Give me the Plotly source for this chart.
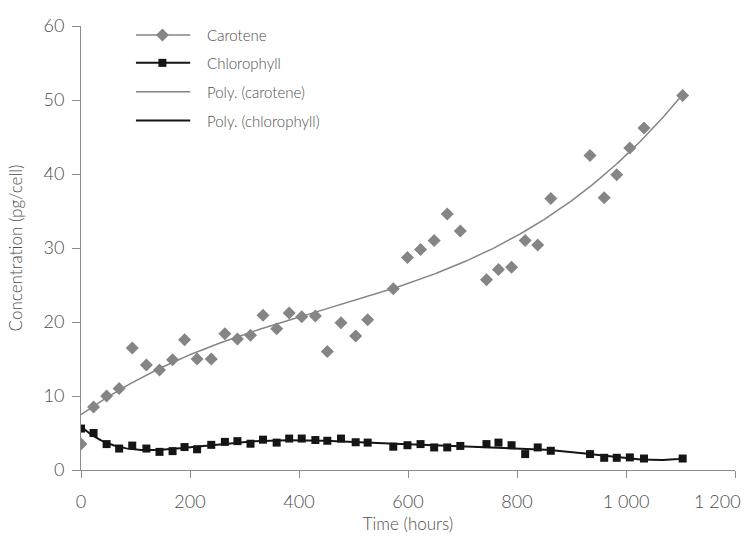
import numpy as np
import plotly.graph_objects as go

# Sampling times (hours)
time_h = [0, 23, 47, 70, 94, 120, 144, 168, 190, 213, 239, 264, 287, 311, 334,
          359, 382, 405, 430, 452, 477, 504, 526, 573, 599, 623, 648, 672, 696,
          744, 766, 790, 815, 838, 862, 934, 960, 983, 1007, 1033, 1104]

# Pigment concentrations (pg/cell)
carotene = [3.5, 8.5, 10.0, 11.0, 16.5, 14.2, 13.5, 14.9, 17.6, 15.0, 15.0, 18.4,
            17.7, 18.2, 20.9, 19.1, 21.2, 20.7, 20.8, 16.0, 19.9, 18.1, 20.3,
            24.5, 28.7, 29.8, 31.0, 34.6, 32.3, 25.7, 27.1, 27.4, 31.0, 30.4,
            36.7, 42.5, 36.8, 39.9, 43.5, 46.2, 50.6]
chlorophyll = [5.6, 5.0, 3.5, 2.9, 3.3, 2.9, 2.45, 2.55, 3.1, 2.8, 3.4, 3.8, 3.9,
               3.55, 4.1, 3.7, 4.25, 4.25, 4.05, 3.95, 4.25, 3.75, 3.7, 3.15,
               3.35, 3.5, 3.05, 3.05, 3.25, 3.5, 3.7, 3.35, 2.15, 3.05, 2.6,
               2.15, 1.65, 1.65, 1.7, 1.55, 1.55]

x_ticks = [0, 200, 400, 600, 800, 1000, 1200]
x_tick_text = ["0", "200", "400", "600", "800", "1 000", "1 200"]
y_ticks = [0, 10, 20, 30, 40, 50, 60]

legend_names = ["Carotene", "Chlorophyll", "Poly. (carotene)", "Poly. (chlorophyll)"]

GREY = "#858585"
BLACK = "#151515"
AXIS = "#8c8c8c"
TEXT = "#4d4d4d"
FONT = "Lato"
WEIGHT = 300
TICK_SIZE = 18

# Polynomial trend lines (order 3 for carotene, order 6 for chlorophyll)
t = np.array(time_h, dtype=float)
t_fine = np.linspace(t.min(), t.max(), 400)
car_fit = np.polyval(np.polyfit(t, carotene, 3), t_fine)
chl_fit = np.polyval(np.polyfit(t, chlorophyll, 6), t_fine)

fig = go.Figure()

fig.add_trace(go.Scatter(x=t_fine, y=car_fit, mode="lines",
                         line=dict(color=GREY, width=1.5), showlegend=False))
fig.add_trace(go.Scatter(x=time_h, y=carotene, mode="markers",
                         marker=dict(symbol="diamond", size=10, color=GREY),
                         showlegend=False))
fig.add_trace(go.Scatter(x=time_h, y=chlorophyll, mode="markers",
                         marker=dict(symbol="square", size=8, color=BLACK),
                         showlegend=False))
fig.add_trace(go.Scatter(x=t_fine, y=chl_fit, mode="lines",
                         line=dict(color=BLACK, width=2), showlegend=False))

# Hand-placed legend on an overlay axis spanning the plot area
leg_rows = [0.980, 0.917, 0.852, 0.787]
leg_styles = [
    dict(line=dict(color=GREY, width=1.5), marker=dict(symbol="diamond", size=10, color=GREY)),
    dict(line=dict(color=BLACK, width=2), marker=dict(symbol="square", size=8, color=BLACK)),
    dict(line=dict(color=GREY, width=1.5), marker=None),
    dict(line=dict(color=BLACK, width=2), marker=None),
]
for name, yrow, st in zip(legend_names, leg_rows, leg_styles):
    fig.add_trace(go.Scatter(x=[0.084, 0.167], y=[yrow, yrow], mode="lines",
                             line=st["line"], xaxis="x2", yaxis="y2",
                             showlegend=False, hoverinfo="skip"))
    if st["marker"] is not None:
        fig.add_trace(go.Scatter(x=[0.1245], y=[yrow], mode="markers",
                                 marker=st["marker"], xaxis="x2", yaxis="y2",
                                 showlegend=False, hoverinfo="skip"))
    fig.add_annotation(x=0.189, y=yrow, xref="x2", yref="y2", text=name,
                       showarrow=False, xanchor="left", yanchor="middle",
                       font=dict(family=FONT, size=15, color=TEXT, weight=WEIGHT))

# The last x label sits inside the right edge, so it is placed by hand
fig.add_annotation(x=x_ticks[-1], y=0, xref="x", yref="paper",
                   text=x_tick_text[-1], showarrow=False,
                   xanchor="right", yanchor="middle", xshift=8, yshift=-31,
                   font=dict(family=FONT, size=TICK_SIZE, color=TEXT, weight=WEIGHT))
x_labels = x_tick_text[:-1] + [""]

fig.update_layout(
    width=748, height=538,
    margin=dict(l=81, r=13, t=26, b=68, autoexpand=False),
    paper_bgcolor="white", plot_bgcolor="white",
    font=dict(family=FONT, color=TEXT, weight=WEIGHT),
    showlegend=False,
    xaxis=dict(range=[0, 1200], tickvals=x_ticks, ticktext=x_labels,
               automargin=False,
               showgrid=False, zeroline=False, showline=True, linecolor=AXIS,
               linewidth=1, ticks="outside", ticklen=7, tickcolor=AXIS,
               ticklabelstandoff=8,
               tickfont=dict(family=FONT, size=TICK_SIZE, color=TEXT, weight=WEIGHT),
               title=dict(text="Time (hours)", standoff=7,
                          font=dict(family=FONT, size=17, color=TEXT, weight=WEIGHT))),
    yaxis=dict(range=[0, 60], tickvals=y_ticks,
               automargin=False,
               showgrid=False, zeroline=False, showline=True, linecolor=AXIS,
               linewidth=1, ticks="outside", ticklen=8, tickcolor=AXIS,
               ticklabelstandoff=4,
               tickfont=dict(family=FONT, size=TICK_SIZE, color=TEXT, weight=WEIGHT),
               title=dict(text="Concentration (pg/cell)", standoff=16,
                          font=dict(family=FONT, size=17, color=TEXT, weight=WEIGHT))),
    xaxis2=dict(range=[0, 1], overlaying="x", visible=False, fixedrange=True),
    yaxis2=dict(range=[0, 1], overlaying="y", visible=False, fixedrange=True),
)

fig.write_html("out.html")
